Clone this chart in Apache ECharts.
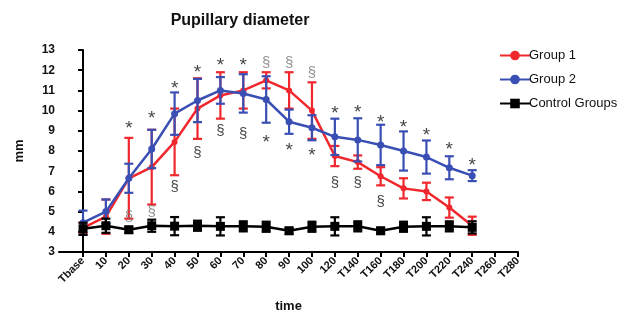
<!DOCTYPE html>
<html>
<head>
<meta charset="utf-8">
<script src="https://cdn.jsdelivr.net/npm/echarts@6/dist/echarts.min.js"></script>
<style>html,body{margin:0;padding:0;background:#fff}#c{width:642px;height:320px}</style>
</head>
<body>
<div id="c"></div>
<script>
const categories = ['Tbase','10','20','30','40','50','60','70','80','90','100','120','T140','T160','T180','T200','T220','T240','T260','T280'];
const g1Mean = [4.2,4.75,6.65,7.2,8.45,10.1,10.75,11.0,11.5,11.0,10.0,7.75,7.45,6.75,6.15,6.0,5.2,4.3];
const g1Err  = [0.25,0.85,2.0,1.85,1.65,1.5,1.15,0.9,0.4,0.9,1.4,0.5,0.33,0.45,0.5,0.43,0.5,0.45];
const g2Mean = [4.45,5.0,6.65,8.1,9.85,10.5,11.0,10.85,10.55,9.45,9.15,8.7,8.55,8.3,8.0,7.7,7.17,6.78];
const g2Err  = [0.6,0.6,0.72,0.95,1.05,1.07,0.66,0.95,1.15,0.6,0.62,0.9,1.07,1.0,0.97,0.82,0.57,0.27];
const ctrlMean = [4.15,4.3,4.1,4.3,4.28,4.3,4.27,4.27,4.25,4.05,4.25,4.27,4.27,4.05,4.25,4.27,4.27,4.22];
const ctrlErr  = [0.3,0.35,0.15,0.3,0.45,0.25,0.45,0.25,0.25,0.15,0.25,0.45,0.25,0.15,0.25,0.45,0.25,0.3];
const starIdx = [2,3,4,5,6,7,8,9,10,11,12,13,14,15,16,17];
const starY   = [9.29,9.78,11.27,12.09,12.42,12.42,8.63,8.21,7.97,10.03,10.08,9.62,9.37,8.96,8.25,7.47];
const sectIdx = [2,3,4,5,6,7,8,9,10,11,12,13];
const sectY   = [4.75,5.0,6.23,7.89,9.0,8.87,12.34,12.34,11.85,6.43,6.4,5.49];
const sectGrey = [1,1,0,0,0,0,1,1,1,0,0,0];

const RED = '#f0282d', BLUE = '#3a4fb4', BLACK = '#000';
const FONT = 'Arial, "Liberation Sans", sans-serif';

function pts(arr){ return arr.map((v,i)=>[i,v]); }
function errData(m,e){ return m.map((v,i)=>[i,v,e[i]]); }
function errSeries(name, m, e, color, capW, z){
  return {
    type:'custom', name:name, z:z, silent:true,
    data: errData(m,e),
    encode:{x:0,y:1},
    renderItem: function(params, api){
      const x = api.value(0), y = api.value(1), err = api.value(2);
      const top = api.coord([x, y+err]), bot = api.coord([x, y-err]);
      const st = {stroke: color, lineWidth: 2.2};
      return {type:'group', children:[
        {type:'line', shape:{x1:top[0],y1:top[1],x2:bot[0],y2:bot[1]}, style:st},
        {type:'line', shape:{x1:top[0]-capW,y1:top[1],x2:top[0]+capW,y2:top[1]}, style:st},
        {type:'line', shape:{x1:bot[0]-capW,y1:bot[1],x2:bot[0]+capW,y2:bot[1]}, style:st}
      ]};
    }
  };
}

const chart = echarts.init(document.getElementById('c'), null, {renderer:'canvas'});
const idxs = categories.map((c,i)=>i);
chart.setOption({
  animation:false,
  backgroundColor:'#fff',
  title:{text:'Pupillary diameter', left:235, top:8, textAlign:'center',
    textStyle:{fontFamily:FONT, fontSize:16, fontWeight:'bold', color:'#111'}},
  legend:{orient:'vertical', left:494, top:44, itemGap:11, itemWidth:30, itemHeight:12,
    data:['Group 1','Group 2','Control Groups'],
    textStyle:{fontFamily:FONT, fontSize:13, color:'#111', padding:[0,0,0,-6]}},
  grid:{left:59, right:124, top:50, bottom:68},
  xAxis:{type:'value', min:-1.05, max:19,
    name:'time', nameLocation:'middle', nameGap:48,
    nameTextStyle:{fontFamily:FONT, fontSize:13, fontWeight:'bold', color:'#111'},
    axisLine:{lineStyle:{color:'#000', width:2}},
    axisTick:{customValues:idxs, length:5, lineStyle:{color:'#000', width:2}},
    axisLabel:{customValues:idxs, rotate:45, margin:7, formatter:v=>categories[Math.round(v)],
      fontFamily:FONT, fontSize:11, color:'#111', fontWeight:'bold'},
    splitLine:{show:false}},
  yAxis:{type:'value', min:3, max:13, interval:1,
    name:'mm', nameLocation:'middle', nameGap:33, nameRotate:90,
    nameTextStyle:{fontFamily:FONT, fontSize:13, fontWeight:'bold', color:'#111'},
    axisLine:{show:true, lineStyle:{color:'#000', width:2}},
    axisTick:{show:true, length:5, lineStyle:{color:'#000', width:2}},
    axisLabel:{margin:4, fontFamily:FONT, fontSize:12, color:'#111', fontWeight:'bold'},
    splitLine:{show:false}},
  series:[
    errSeries('e1', g1Mean, g1Err, RED, 4.5, 1),
    {type:'line', name:'Group 1', data:pts(g1Mean), z:2, color:RED,
      lineStyle:{width:2.5, color:RED}, symbol:'circle', symbolSize:6,
      itemStyle:{color:RED}},
    errSeries('e2', g2Mean, g2Err, BLUE, 4.5, 3),
    {type:'line', name:'Group 2', data:pts(g2Mean), z:4, color:BLUE,
      lineStyle:{width:2.5, color:BLUE}, symbol:'circle', symbolSize:7,
      itemStyle:{color:BLUE}},
    errSeries('e3', ctrlMean, ctrlErr, BLACK, 4.5, 5),
    {type:'line', name:'Control Groups', data:pts(ctrlMean), z:6, color:BLACK,
      lineStyle:{width:2.5, color:BLACK}, symbol:'rect', symbolSize:9,
      itemStyle:{color:BLACK}},
    {type:'scatter', name:'stars', z:7, silent:true, symbolSize:0,
      data: starIdx.map((x,i)=>({value:[x, starY[i]]})),
      label:{show:true, position:'inside', formatter:'*', offset:[0,4],
        fontFamily:FONT, fontSize:19, color:'#111'}},
    {type:'scatter', name:'sects', z:7, silent:true, symbolSize:0,
      data: sectIdx.map((x,i)=>({value:[x, sectY[i]],
        label:{color: sectGrey[i] ? '#777' : '#111'}})),
      label:{show:true, position:'inside', formatter:'§',
        fontFamily:FONT, fontSize:15}}
  ]
});
</script>
</body>
</html>
